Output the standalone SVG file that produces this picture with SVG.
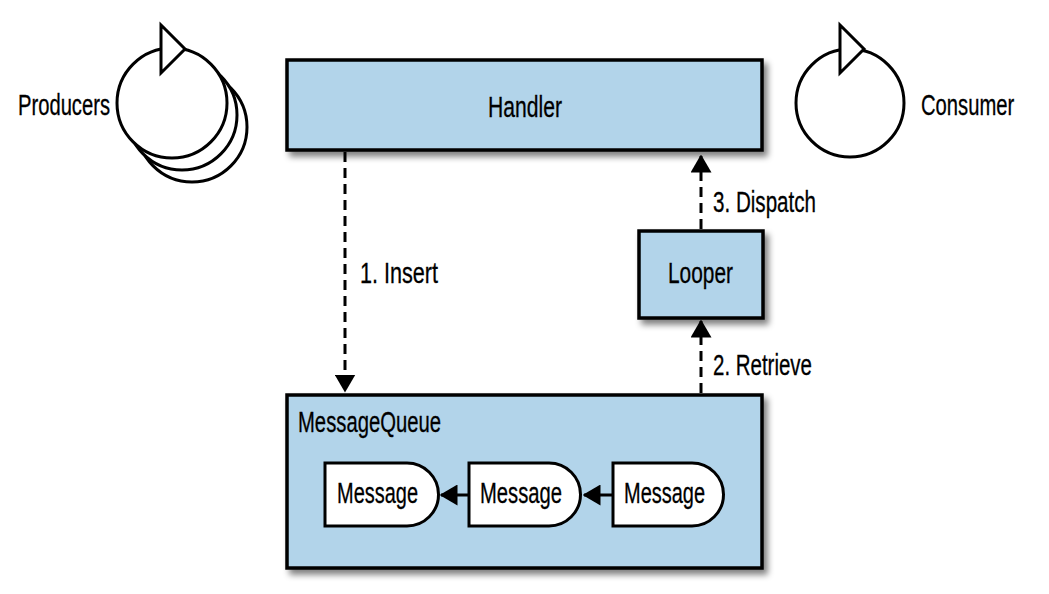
<svg xmlns="http://www.w3.org/2000/svg" width="1049" height="594" viewBox="0 0 1049 594">
<style>
  .box { fill: #b2d4ea; stroke: #000; stroke-width: 3.5; filter: url(#sh); }
  .wh { fill: #fff; stroke: #000; stroke-width: 3; }
  .t { font-family: "Liberation Sans", Arial, sans-serif; font-size: 30px; fill: #000; stroke: #000; stroke-width: 0.3; }
  .dash { stroke: #000; stroke-width: 3; stroke-dasharray: 10 6; fill: none; }
  .solid { stroke: #000; stroke-width: 3; fill: none; }
</style>
<defs>
  <filter id="sh" x="-10%" y="-10%" width="130%" height="140%">
    <feGaussianBlur in="SourceAlpha" stdDeviation="3"/>
    <feOffset dx="4" dy="5" result="b"/>
    <feComponentTransfer><feFuncA type="linear" slope="0.5"/></feComponentTransfer>
    <feMerge><feMergeNode/><feMergeNode in="SourceGraphic"/></feMerge>
  </filter>
  <marker id="ah" markerWidth="6" markerHeight="7" refX="5.5" refY="3.5" orient="auto" markerUnits="strokeWidth">
    <path d="M0,0 L6,3.5 L0,7 Z" fill="#000"/>
  </marker>
</defs>

<g id="producers">
  <circle class="wh" cx="192" cy="127" r="55"/>
  <circle class="wh" cx="182" cy="115" r="55"/>
  <circle class="wh" cx="172" cy="103" r="55"/>
  <path class="wh" d="M161,25 L185,49 L161,73 Z"/>
  <text class="t" x="18" y="115" textLength="92" lengthAdjust="spacingAndGlyphs">Producers</text>
</g>

<g id="consumer">
  <circle class="wh" cx="850" cy="103" r="54"/>
  <path class="wh" d="M840,25 L864,49 L840,73 Z"/>
  <text class="t" transform="translate(921,115) scale(0.674,1)" x="0" y="0">Consumer</text>
</g>

<g id="handler">
  <rect class="box" x="287" y="60" width="475" height="90"/>
  <text class="t" x="488" y="117" textLength="74" lengthAdjust="spacingAndGlyphs">Handler</text>
</g>

<g id="looper">
  <rect class="box" x="639" y="231" width="124" height="87"/>
  <text class="t" x="668" y="283" textLength="65" lengthAdjust="spacingAndGlyphs">Looper</text>
</g>

<g id="messagequeue">
  <rect class="box" x="287" y="395" width="475" height="173"/>
  <text class="t" x="298" y="432" textLength="143" lengthAdjust="spacingAndGlyphs">MessageQueue</text>
</g>

<g id="message1">
  <path class="wh" d="M325,463 L407,463 A31.5,31.5 0 0 1 407,526 L325,526 Z"/>
  <text class="t" x="337" y="503" textLength="81" lengthAdjust="spacingAndGlyphs">Message</text>
</g>
<g id="message2">
  <path class="wh" d="M469,463 L549,463 A31.5,31.5 0 0 1 549,526 L469,526 Z"/>
  <text class="t" x="480" y="503" textLength="82" lengthAdjust="spacingAndGlyphs">Message</text>
</g>
<g id="message3">
  <path class="wh" d="M613,463 L692,463 A31.5,31.5 0 0 1 692,526 L613,526 Z"/>
  <text class="t" x="624" y="503" textLength="81" lengthAdjust="spacingAndGlyphs">Message</text>
</g>

<g id="connectors">
  <line class="dash" x1="345" y1="152" x2="345" y2="391" marker-end="url(#ah)"/>
  <text class="t" x="360" y="283" textLength="78" lengthAdjust="spacingAndGlyphs">1. Insert</text>
  <line class="dash" x1="701" y1="393" x2="701" y2="321" marker-end="url(#ah)"/>
  <text class="t" x="713" y="375" textLength="99" lengthAdjust="spacingAndGlyphs">2. Retrieve</text>
  <line class="dash" x1="701" y1="229" x2="701" y2="156" marker-end="url(#ah)"/>
  <text class="t" x="713" y="212" textLength="103" lengthAdjust="spacingAndGlyphs">3. Dispatch</text>
  <line class="solid" x1="469" y1="495" x2="441" y2="495" marker-end="url(#ah)"/>
  <line class="solid" x1="613" y1="495" x2="584" y2="495" marker-end="url(#ah)"/>
</g>
</svg>
